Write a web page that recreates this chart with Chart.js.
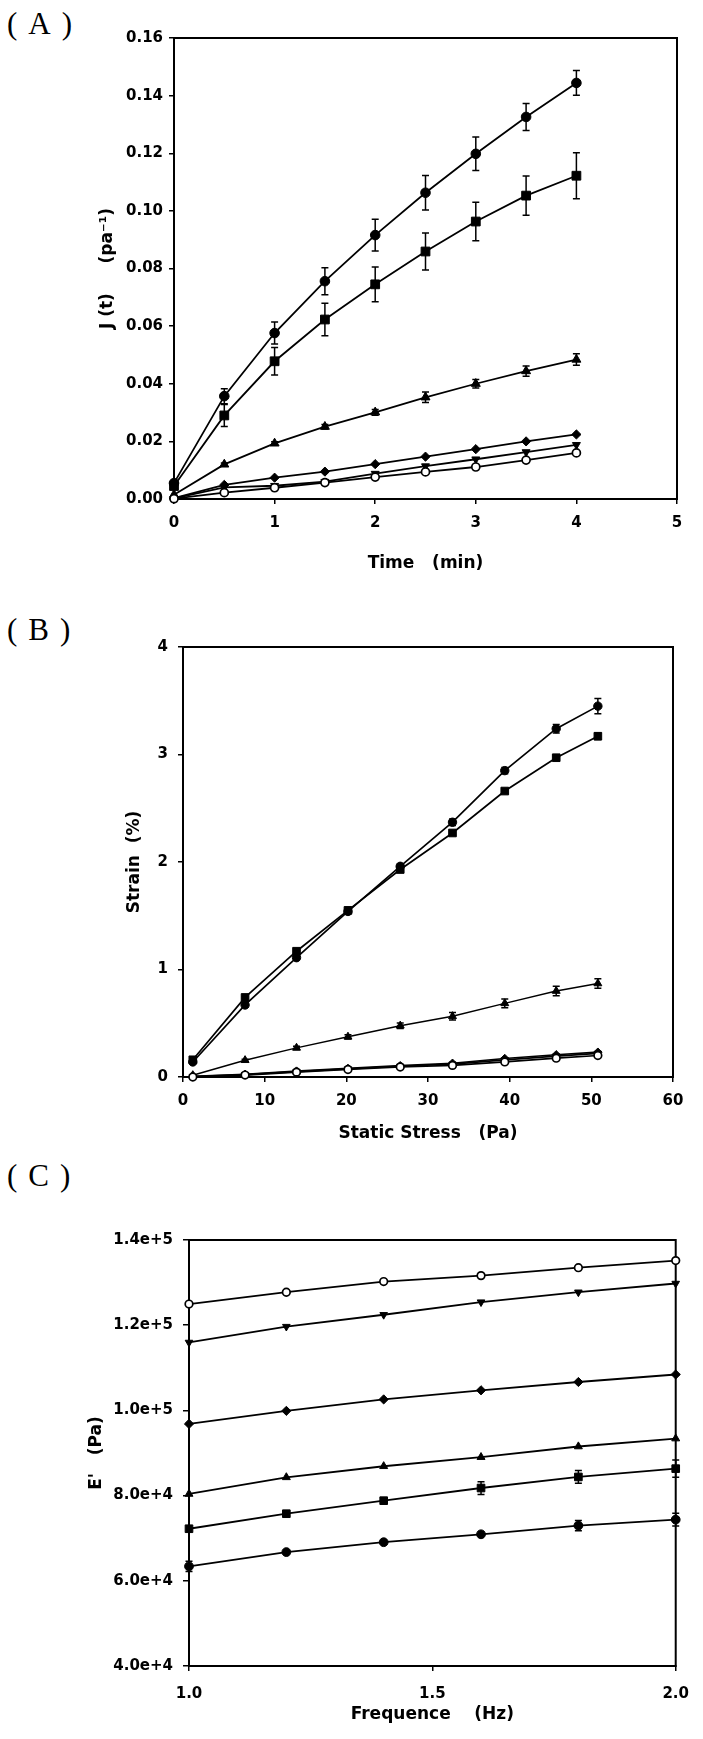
<!DOCTYPE html>
<html><head><meta charset="utf-8">
<script src="https://cdn.jsdelivr.net/npm/chart.js@4.4.1/dist/chart.umd.min.js"></script>
<style>
html,body{margin:0;padding:0;background:#fff;width:703px;height:1739px;overflow:hidden;position:relative}
.lab{position:absolute;left:7px;font-family:"Liberation Serif","DejaVu Serif",serif;font-size:31px;line-height:31px;letter-spacing:11px;color:#000;white-space:nowrap}
canvas{position:absolute;left:0}
</style></head><body>
<div class="lab" style="top:8px">(A)</div>
<div class="lab" style="top:614px">(B)</div>
<div class="lab" style="top:1160px">(C)</div>
<canvas id="cA" width="703" height="590" style="top:0px"></canvas>
<canvas id="cB" width="703" height="570" style="top:590px"></canvas>
<canvas id="cC" width="703" height="579" style="top:1160px"></canvas>
<script>
// ---------- Panel A: creep compliance ----------
const timeMin = [0, 0.5, 1, 1.5, 2, 2.5, 3, 3.5, 4];
const jCircle    = [0.0055, 0.0357, 0.0576, 0.0756, 0.0916, 0.1063, 0.1198, 0.1326, 0.1444];
const jCircleErr = [0.0010, 0.0026, 0.0038, 0.0047, 0.0055, 0.0060, 0.0058, 0.0047, 0.0043];
const jSquare    = [0.0045, 0.0290, 0.0478, 0.0623, 0.0745, 0.0859, 0.0963, 0.1053, 0.1122];
const jSquareErr = [0.0010, 0.0038, 0.0048, 0.0056, 0.0060, 0.0064, 0.0067, 0.0068, 0.0080];
const jTriUp     = [0.0015, 0.0120, 0.0193, 0.0251, 0.0301, 0.0353, 0.0400, 0.0444, 0.0484];
const jTriUpErr  = [0, 0.0005, 0.0006, 0.0008, 0.0010, 0.0018, 0.0015, 0.0018, 0.0020];
const jDiamond   = [0.0003, 0.0049, 0.0074, 0.0095, 0.0121, 0.0147, 0.0173, 0.0200, 0.0224];
const jTriDown   = [0.0002, 0.0040, 0.0046, 0.0060, 0.0088, 0.0114, 0.0138, 0.0163, 0.0188];
const jOpen      = [0.0001, 0.0022, 0.0039, 0.0057, 0.0076, 0.0094, 0.0111, 0.0135, 0.0160];

// ---------- Panel B: strain vs static stress ----------
const stressPa = [1.2, 7.6, 13.9, 20.2, 26.6, 33.0, 39.4, 45.7, 50.8];
const sCircle    = [0.14, 0.67, 1.11, 1.54, 1.96, 2.37, 2.85, 3.24, 3.45];
const sCircleErr = [0.01, 0.02, 0.02, 0.02, 0.02, 0.03, 0.03, 0.04, 0.07];
const sSquare    = [0.16, 0.74, 1.17, 1.55, 1.93, 2.27, 2.66, 2.97, 3.17];
const sSquareErr = [0.01, 0.01, 0.02, 0.02, 0.02, 0.02, 0.02, 0.02, 0.03];
const sTriUp     = [0.016, 0.156, 0.271, 0.374, 0.477, 0.565, 0.685, 0.800, 0.870];
const sTriUpErr  = [0.005, 0.010, 0.015, 0.020, 0.025, 0.035, 0.040, 0.045, 0.045];
const sDiamond   = [0.005, 0.025, 0.055, 0.080, 0.105, 0.128, 0.172, 0.207, 0.231];
const sTriDown   = [0.003, 0.022, 0.050, 0.075, 0.100, 0.120, 0.160, 0.195, 0.220];
const sOpen      = [0.000, 0.018, 0.045, 0.070, 0.093, 0.108, 0.140, 0.175, 0.200];

// ---------- Panel C: storage modulus vs frequency ----------
const freqHz = [1.0, 1.2, 1.4, 1.6, 1.8, 2.0];
const eOpen      = [124960, 127740, 130250, 131640, 133500, 135170];
const eTriDown   = [115950, 119670, 122450, 125420, 127740, 129790];
const eDiamond   = [96830, 99890, 102580, 104720, 106670, 108430];
const eTriUp     = [80390, 84290, 86890, 89030, 91530, 93390];
const eSquare    = [72220, 75750, 78810, 81780, 84380, 86330];
const eSquareErr = [0, 0, 0, 1500, 1500, 2000];
const eCircle    = [63400, 66740, 69060, 70920, 72960, 74360];
const eCircleErr = [1200, 0, 0, 0, 1200, 1500];

// tick ranges
const ticksA = {xMin: 0, xMax: 5, xStep: 1, yMin: 0, yMax: 0.16, yStep: 0.02};
const ticksB = {xMin: 0, xMax: 60, xStep: 10, yMin: 0, yMax: 4, yStep: 1};
const ticksC = {xMin: 1.0, xMax: 2.0, xStep: 0.5, yMin: 40000, yMax: 140000, yStep: 20000};

const TICK_FONT = {family: '"DejaVu Sans", sans-serif', size: 15, weight: 'bold'};
const TITLE_FONT = {family: '"DejaVu Sans", sans-serif', size: 17, weight: 'bold'};

const markers = {
  circle:  {pointStyle: 'circle', pointRotation: 0, fill: '#000'},
  square:  {pointStyle: 'rect', pointRotation: 0, fill: '#000'},
  triUp:   {pointStyle: 'triangle', pointRotation: 0, fill: '#000'},
  diamond: {pointStyle: 'rectRot', pointRotation: 0, fill: '#000'},
  triDown: {pointStyle: 'triangle', pointRotation: 180, fill: '#000'},
  open:    {pointStyle: 'circle', pointRotation: 0, fill: '#fff'}
};

function series(xs, ys, errs, kind, radius, lw) {
  const m = markers[kind];
  return {
    data: xs.map((x, i) => ({x: x, y: ys[i]})),
    errors: errs || null,
    borderColor: '#000',
    borderWidth: lw,
    pointStyle: m.pointStyle,
    pointRotation: m.pointRotation,
    pointBackgroundColor: m.fill,
    pointBorderColor: '#000',
    pointBorderWidth: kind === 'open' ? 1.7 : 1,
    pointRadius: radius[kind],
    fill: false,
    tension: 0,
    clip: false
  };
}

const errorBars = {
  id: 'errorBars',
  beforeDatasetsDraw(chart) {
    const ctx = chart.ctx, ys = chart.scales.y;
    chart.data.datasets.forEach((ds, i) => {
      if (!ds.errors) return;
      const meta = chart.getDatasetMeta(i);
      ctx.save();
      ctx.strokeStyle = '#000';
      ctx.lineWidth = 1.5;
      meta.data.forEach((pt, j) => {
        const e = ds.errors[j];
        if (!e) return;
        const v = ds.data[j].y;
        const t = ys.getPixelForValue(v + e), b = ys.getPixelForValue(v - e);
        const cap = 3.5;
        ctx.beginPath();
        ctx.moveTo(pt.x, t); ctx.lineTo(pt.x, b);
        ctx.moveTo(pt.x - cap, t); ctx.lineTo(pt.x + cap, t);
        ctx.moveTo(pt.x - cap, b); ctx.lineTo(pt.x + cap, b);
        ctx.stroke();
      });
      ctx.restore();
    });
  }
};

const frame = {
  id: 'frame',
  beforeDatasetsDraw(chart) {
    const a = chart.chartArea, ctx = chart.ctx;
    ctx.save();
    ctx.strokeStyle = '#000';
    ctx.lineWidth = 2;
    ctx.strokeRect(a.left, a.top, a.right - a.left, a.bottom - a.top);
    ctx.restore();
  }
};

function makeChart(id, datasets, t, lay, xTitle, yTitle, xFmt, yFmt) {
  const canvas = document.getElementById(id);
  const H = canvas.height, W = canvas.width;
  return new Chart(canvas, {
    type: 'line',
    data: {datasets: datasets},
    plugins: [frame, errorBars],
    options: {
      responsive: false,
      animation: false,
      devicePixelRatio: 1,
      layout: {padding: {top: lay.top, right: W - lay.right, left: 0, bottom: 0}},
      plugins: {legend: {display: false}, tooltip: {enabled: false}},
      scales: {
        x: {
          type: 'linear', min: t.xMin, max: t.xMax,
          afterFit(s) { s.height = H - lay.bottom; },
          ticks: {stepSize: t.xStep, color: '#000', font: TICK_FONT, padding: lay.xPad,
                  maxRotation: 0, autoSkip: false, callback: xFmt},
          grid: {display: true, drawOnChartArea: false, drawTicks: true, tickLength: 5, color: '#000', lineWidth: 1.5},
          border: {display: true, color: '#000', width: 2},
          title: {display: true, text: xTitle, color: '#000', font: TITLE_FONT, padding: {top: 0, bottom: lay.xTitlePad}}
        },
        y: {
          type: 'linear', min: t.yMin, max: t.yMax,
          afterFit(s) { s.width = lay.left; },
          ticks: {stepSize: t.yStep, color: '#000', font: TICK_FONT, padding: lay.yPad, autoSkip: false, callback: yFmt},
          grid: {display: true, drawOnChartArea: false, drawTicks: true, tickLength: lay.tickLen, color: '#000', lineWidth: 1.5},
          border: {display: true, color: '#000', width: 2},
          title: {display: true, text: yTitle, color: '#000', font: TITLE_FONT, padding: {top: lay.yTitlePad, bottom: 0}}
        }
      }
    }
  });
}

const rA = {circle: 4.8, square: 6.2, triUp: 5.2, diamond: 4.6, triDown: 4.6, open: 4};
makeChart('cA', [
  series(timeMin, jOpen, null, 'open', rA, 1.8),
  series(timeMin, jTriDown, null, 'triDown', rA, 1.8),
  series(timeMin, jDiamond, null, 'diamond', rA, 1.8),
  series(timeMin, jTriUp, jTriUpErr, 'triUp', rA, 1.8),
  series(timeMin, jSquare, jSquareErr, 'square', rA, 1.8),
  series(timeMin, jCircle, jCircleErr, 'circle', rA, 1.8)
], ticksA, {top: 38, bottom: 499, left: 174, right: 677, xPad: 10, yPad: 6, tickLen: 5, xTitlePad: 16, yTitlePad: 97},
  'Time   (min)', 'J (t)     (pa\u207B\u00B9)', v => String(v), v => v.toFixed(2));

const rB = {circle: 4.2, square: 5.4, triUp: 4.6, diamond: 4.2, triDown: 4.2, open: 3.8};
makeChart('cB', [
  series(stressPa, sOpen, null, 'open', rB, 1.7),
  series(stressPa, sTriDown, null, 'triDown', rB, 1.7),
  series(stressPa, sDiamond, null, 'diamond', rB, 1.7),
  series(stressPa, sTriUp, sTriUpErr, 'triUp', rB, 1.5),
  series(stressPa, sSquare, sSquareErr, 'square', rB, 1.7),
  series(stressPa, sCircle, sCircleErr, 'circle', rB, 1.7)
], ticksB, {top: 57, bottom: 487, left: 183, right: 673, xPad: 10, yPad: 10, tickLen: 5, xTitlePad: 16, yTitlePad: 124},
  'Static Stress   (Pa)', 'Strain  (%)', v => String(v), v => String(v));

const rC = {circle: 4.4, square: 5.4, triUp: 4.6, diamond: 4.6, triDown: 4.4, open: 3.8};
makeChart('cC', [
  series(freqHz, eOpen, null, 'open', rC, 1.8),
  series(freqHz, eTriDown, null, 'triDown', rC, 1.8),
  series(freqHz, eDiamond, null, 'diamond', rC, 1.8),
  series(freqHz, eTriUp, null, 'triUp', rC, 1.8),
  series(freqHz, eSquare, eSquareErr, 'square', rC, 1.8),
  series(freqHz, eCircle, eCircleErr, 'circle', rC, 1.8)
], ticksC, {top: 80, bottom: 506, left: 189, right: 685, xPad: 14, yPad: 10, tickLen: 6, xTitlePad: 14, yTitlePad: 86},
  'Frequence    (Hz)', "E'   (Pa)", v => v.toFixed(1), v => v.toExponential(1));
</script>
</body></html>
